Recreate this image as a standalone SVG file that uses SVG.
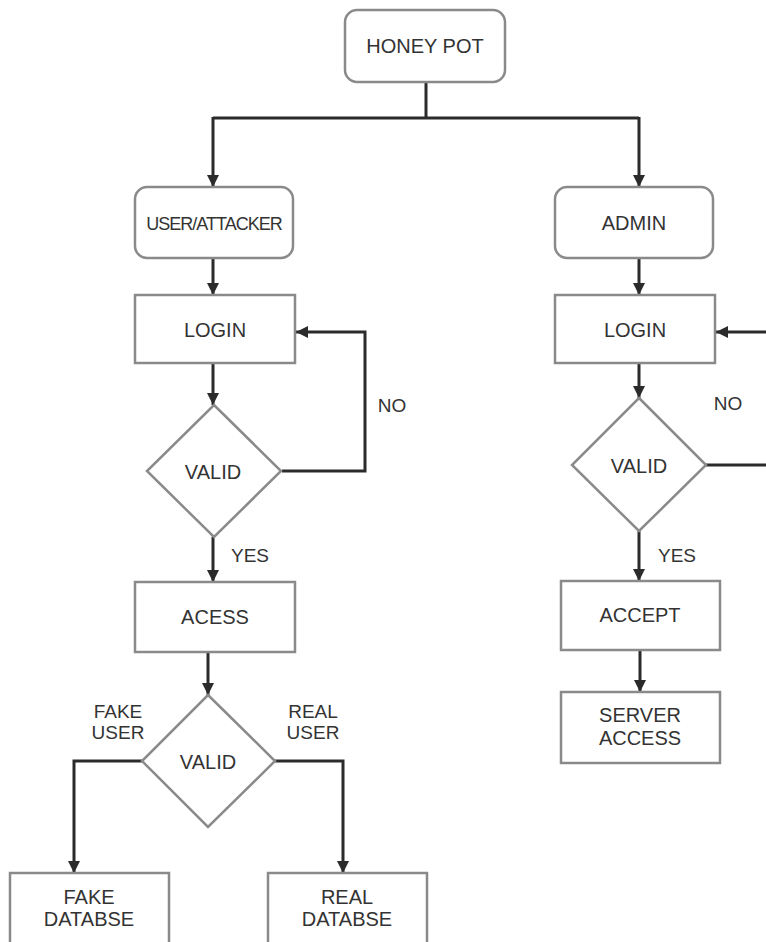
<svg xmlns="http://www.w3.org/2000/svg" width="766" height="942" viewBox="0 0 766 942">
<style>
.box{fill:#fff;stroke:#8a8a8a;stroke-width:2.5}
.t{font-family:"Liberation Sans",Arial,sans-serif;font-size:20px;fill:#333;text-anchor:middle}
.lbl{font-family:"Liberation Sans",Arial,sans-serif;font-size:19px;fill:#333;text-anchor:middle}
.c{fill:none;stroke:#2b2b2b;stroke-width:3}
</style>
<defs>
<marker id="ah" viewBox="0 0 10 10" refX="10" refY="5" markerWidth="4" markerHeight="4" orient="auto" markerUnits="strokeWidth">
<path d="M0,0 L10,5 L0,10 z" fill="#2b2b2b"/>
</marker>
</defs>
<rect width="766" height="942" fill="#fff"/>
<g id="connectors">
<path class="c" d="M426,82 V118"/>
<path class="c" d="M213,118 H639"/>
<path class="c" d="M213,117 V187" marker-end="url(#ah)"/>
<path class="c" d="M639,117 V187" marker-end="url(#ah)"/>
<path class="c" d="M213,258 V295" marker-end="url(#ah)"/>
<path class="c" d="M213,363 V405" marker-end="url(#ah)"/>
<path class="c" d="M282,471 H365 V332 H296" marker-end="url(#ah)"/>
<path class="c" d="M213,537 V582" marker-end="url(#ah)"/>
<path class="c" d="M639,258 V295" marker-end="url(#ah)"/>
<path class="c" d="M639,363 V398" marker-end="url(#ah)"/>
<path class="c" d="M706,465 H770 V332 H716" marker-end="url(#ah)"/>
<path class="c" d="M639,530 V581" marker-end="url(#ah)"/>
<path class="c" d="M640,650 V692" marker-end="url(#ah)"/>
<path class="c" d="M208,652 V695" marker-end="url(#ah)"/>
<path class="c" d="M142,761 H74 V873" marker-end="url(#ah)"/>
<path class="c" d="M275,761 H343 V873" marker-end="url(#ah)"/>
<text class="lbl" x="392" y="412">NO</text>
<text class="lbl" x="728" y="410">NO</text>
<text class="lbl" x="250" y="562">YES</text>
<text class="lbl" x="677" y="562">YES</text>
<text class="lbl" x="118" y="718">FAKE</text>
<text class="lbl" x="118" y="739">USER</text>
<text class="lbl" x="313" y="718">REAL</text>
<text class="lbl" x="313" y="739">USER</text>
</g>
<g id="honeypot">
<rect class="box" x="345" y="10" width="160" height="72" rx="12"/>
<text class="t" x="425" y="53">HONEY POT</text>
</g>
<g id="user">
<rect class="box" x="135" y="187" width="158" height="71" rx="12"/>
<text class="t" x="214" y="230" style="font-size:18px;letter-spacing:-1px">USER/ATTACKER</text>
</g>
<g id="admin">
<rect class="box" x="555" y="187" width="158" height="71" rx="12"/>
<text class="t" x="634" y="230">ADMIN</text>
</g>
<g id="login-left">
<rect class="box" x="135" y="295" width="160" height="68"/>
<text class="t" x="215" y="337">LOGIN</text>
</g>
<g id="login-right">
<rect class="box" x="555" y="295" width="160" height="68"/>
<text class="t" x="635" y="337">LOGIN</text>
</g>
<g id="valid-left">
<polygon class="box" points="214,405 281,471 214,537 147,471"/>
<text class="t" x="213" y="479">VALID</text>
</g>
<g id="valid-right">
<polygon class="box" points="639,398 706,465 639,531 572,465"/>
<text class="t" x="639" y="473">VALID</text>
</g>
<g id="acess">
<rect class="box" x="135" y="582" width="160" height="70"/>
<text class="t" x="215" y="624">ACESS</text>
</g>
<g id="accept">
<rect class="box" x="561" y="581" width="159" height="69"/>
<text class="t" x="640" y="622">ACCEPT</text>
</g>
<g id="server-access">
<rect class="box" x="561" y="692" width="159" height="71"/>
<text class="t" x="640" y="722">SERVER</text>
<text class="t" x="640" y="745">ACCESS</text>
</g>
<g id="valid-bottom">
<polygon class="box" points="208,695 275,761 208,827 142,761"/>
<text class="t" x="208" y="769">VALID</text>
</g>
<g id="fake-db">
<rect class="box" x="10" y="873" width="159" height="80"/>
<text class="t" x="89" y="904">FAKE</text>
<text class="t" x="89" y="926">DATABSE</text>
</g>
<g id="real-db">
<rect class="box" x="268" y="873" width="159" height="80"/>
<text class="t" x="347" y="904">REAL</text>
<text class="t" x="347" y="926">DATABSE</text>
</g>
</svg>
